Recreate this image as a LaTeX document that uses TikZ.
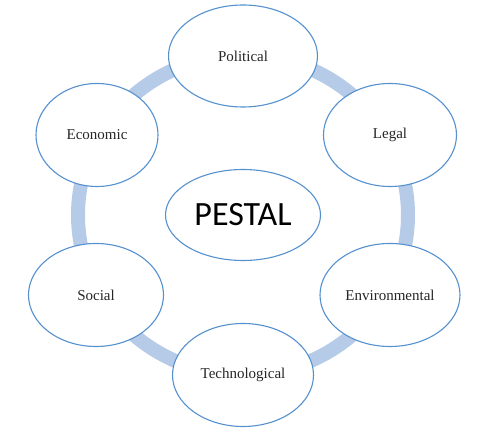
\documentclass[tikz,border=0pt]{standalone}
\usepackage{fontspec}
\setmainfont{Liberation Serif}
\newfontfamily\calibri{Carlito}
\usetikzlibrary{shapes.geometric}
\definecolor{ringblue}{HTML}{B5CBE8}
\definecolor{edgeblue}{HTML}{5691CF}

\begin{document}
\begin{tikzpicture}[x=1pt, y=-1pt,
  factor/.style={ellipse, draw=edgeblue, line width=1.1pt, fill=white, inner sep=0pt, minimum height=103pt, font=\fontsize{15}{18}\selectfont, text=black!85},
  core/.style={factor, minimum width=155pt, minimum height=91pt, font=\calibri\fontsize{34}{40}\selectfont, text=black},
  ring/.style={draw=ringblue, line width=14pt}
]
\useasboundingbox (0,0) rectangle (491,430);

% cycle behind the factors
\draw[ring] (243,215) ellipse [x radius=165pt, y radius=160pt];

\node[core] (pestal) at (243,215) {PESTAL};
\node[factor, minimum width=149pt, minimum height=102pt] (pol) at (243,56) {Political};
\node[factor, minimum width=133pt] (leg) at (390,135) {Legal};
\node[factor, minimum width=140pt] (env) at (390,295) {Environmental};
\node[factor, minimum width=141pt] (tech) at (243,375) {Technological};
\node[factor, minimum width=135pt] (soc) at (96,295) {Social};
\node[factor, minimum width=122pt] (eco) at (97,135) {Economic};
\end{tikzpicture}
\end{document}
